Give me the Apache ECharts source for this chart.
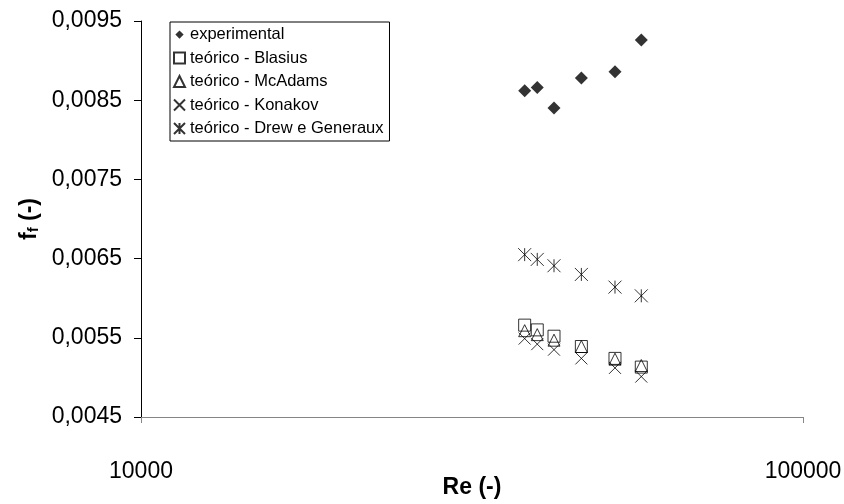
<!DOCTYPE html>
<html>
<head>
<meta charset="utf-8">
<script src="https://cdn.jsdelivr.net/npm/echarts@6/dist/echarts.min.js"></script>
<style>
  html, body { margin: 0; padding: 0; background: #ffffff; }
  #chart { width: 844px; height: 504px; }
</style>
</head>
<body>
<div id="chart"></div>
<script>
// Reynolds numbers of the six runs
const reynolds = [37980, 39680, 42060, 46260, 52000, 56980];

// Fanning friction factor, measured and from correlations
const experimental = [0.00862, 0.00866, 0.00840, 0.00878, 0.00886, 0.00926];
const blasius      = [0.00566, 0.00560, 0.00552, 0.00539, 0.00524, 0.00513];
const mcAdams      = [0.00559, 0.00554, 0.00547, 0.00539, 0.00523, 0.00515];
const konakov      = [0.00549, 0.00542, 0.00535, 0.00524, 0.00512, 0.00501];
const drewGeneraux = [0.00655, 0.00649, 0.00641, 0.00630, 0.00614, 0.00603];

// Axis ranges
const xRange = [10000, 100000];
const yRange = [0.0045, 0.0095];
const yStep = 0.001;

const FONT = "'Liberation Sans', Arial, sans-serif";

const pairs = (ys) => reynolds.map((re, i) => [re, ys[i]]);

const hollow = { color: 'rgba(0,0,0,0)', borderColor: '#000', borderWidth: 1 };
const crossPath = 'path://M0,0L10,10M10,0L0,10';
const starPath = 'path://M0,0L10,10M10,0L0,10M5,0L5,10';

const seriesDefs = [
  { name: 'experimental', data: experimental, symbol: 'diamond', size: 13,
    style: { color: '#000' }, icon: 'path://M0,0M12,12M6,1.5L10.5,6L6,10.5L1.5,6Z' },
  { name: 'teórico - Blasius', data: blasius, symbol: 'rect', size: 12, style: hollow },
  { name: 'teórico - McAdams', data: mcAdams, symbol: 'triangle', size: 12, style: hollow },
  { name: 'teórico - Konakov', data: konakov, symbol: crossPath, size: 12, style: hollow },
  { name: 'teórico - Drew e Generaux', data: drewGeneraux, symbol: starPath, size: 13, style: hollow }
];

const chart = echarts.init(document.getElementById('chart'), null, { renderer: 'canvas' });

chart.setOption({
  animation: false,
  backgroundColor: '#ffffff',
  textStyle: { fontFamily: FONT, color: '#000' },
  grid: { left: 141, right: 41, top: 21, bottom: 87, containLabel: false, outerBoundsMode: 'none' },
  legend: {
    orient: 'vertical',
    left: 170,
    top: 22,
    padding: [4, 6, 4, 3],
    borderColor: '#000',
    borderWidth: 1,
    backgroundColor: '#fff',
    itemWidth: 11,
    itemHeight: 11,
    itemGap: 6.5,
    textStyle: { fontFamily: FONT, fontSize: 16.5, color: '#000', lineHeight: 16 },
    selectedMode: false,
    data: seriesDefs.map(s => ({ name: s.name, icon: s.icon || s.symbol }))
  },
  xAxis: {
    type: 'log',
    logBase: 10,
    min: xRange[0],
    max: xRange[1],
    name: 'Re (-)',
    nameLocation: 'middle',
    nameGap: 59,
    nameMoveOverlap: false,
    nameTextStyle: { fontFamily: FONT, fontSize: 23, fontWeight: 'bold', color: '#000' },
    axisLine: { lineStyle: { color: '#868686', width: 1 } },
    axisTick: { show: true, length: 6, inside: false, lineStyle: { color: '#868686' } },
    minorTick: { show: false },
    splitLine: { show: false },
    axisLabel: { fontFamily: FONT, fontSize: 23, color: '#000', margin: 43,
                 formatter: v => String(Math.round(v)) }
  },
  yAxis: {
    type: 'value',
    min: yRange[0],
    max: yRange[1],
    interval: yStep,
    name: '{a|f}{b|f}{a| (-)}',
    nameLocation: 'middle',
    nameRotate: 90,
    nameGap: 100,
    nameMoveOverlap: false,
    nameTextStyle: {
      rich: {
        a: { fontFamily: FONT, fontSize: 23, fontWeight: 'bold', color: '#000', lineHeight: 28, verticalAlign: 'bottom' },
        b: { fontFamily: FONT, fontSize: 15, fontWeight: 'bold', color: '#000', lineHeight: 15, verticalAlign: 'bottom' }
      }
    },
    axisLine: { show: true, lineStyle: { color: '#000', width: 1 } },
    axisTick: { show: true, length: 7, inside: false, lineStyle: { color: '#000' } },
    splitLine: { show: false },
    axisLabel: { fontFamily: FONT, fontSize: 23, color: '#000', margin: 19,
                 formatter: v => v.toFixed(4).replace('.', ',') }
  },
  series: seriesDefs.map(s => ({
    name: s.name,
    type: 'scatter',
    data: pairs(s.data),
    symbol: s.symbol,
    symbolSize: s.size,
    itemStyle: s.style,
    emphasis: { disabled: true }
  }))
});
</script>
</body>
</html>
